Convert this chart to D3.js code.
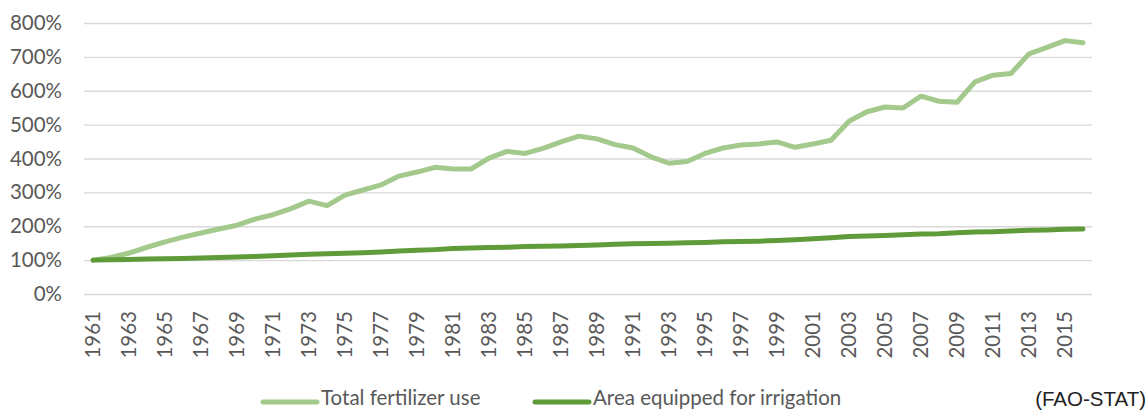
<!DOCTYPE html>
<html>
<head>
<meta charset="utf-8">
<script src="https://cdn.jsdelivr.net/npm/d3@7"></script>
<style>
  body { margin: 0; background: #fff; }
  text { font-family: Lato, "Open Sans", sans-serif; }
</style>
</head>
<body>
<div id="chart"></div>
<script>
// data (index, 1961 = 100%)
const years = d3.range(1961, 2017);

const fertilizer = [
  100, 108, 121, 138, 154, 168, 180, 192, 203, 221,
  234, 252, 274, 261, 292, 307, 322, 348, 360, 374,
  369, 369, 401, 421, 415, 430, 449, 466, 458, 441,
  431, 405, 386, 391, 415, 431, 440, 443, 449, 433,
  443, 454, 510, 538, 552, 549, 584, 569, 566, 626,
  646, 651, 709, 728, 748, 742
];

const irrigation = [
  100, 101, 102, 103, 104, 105, 106, 108, 109, 111,
  113, 115, 117, 119, 120, 122, 124, 127, 129, 131,
  134, 136, 137, 138, 140, 141, 142, 143, 145, 147,
  148, 149, 150, 151, 152, 154, 155, 156, 158, 160,
  163, 166, 170, 171, 173, 175, 177, 178, 181, 183,
  184, 186, 188, 189, 191, 192
];

const yTicks = [0, 100, 200, 300, 400, 500, 600, 700, 800];
const xTicks = years.filter(y => (y - 1961) % 2 === 0);

const seriesNames = ["Total fertilizer use", "Area equipped for irrigation"];
const colors = ["#a3c98d", "#5f9b39"];

const WIDTH = 1147;
const HEIGHT = 410;
const margin = { top: 23, right: 55, bottom: 116, left: 84 };
const width = WIDTH - margin.left - margin.right;
const height = HEIGHT - margin.top - margin.bottom;

const svg = d3
  .select("#chart")
  .append("svg")
  .attr("width", WIDTH)
  .attr("height", HEIGHT);

const g = svg
  .append("g")
  .attr("transform", `translate(${margin.left}, ${margin.top})`);

const x = d3.scaleBand().domain(years).range([0, width]);
const y = d3.scaleLinear().domain([0, 800]).range([height, 0]);

// gridlines + y labels
const yAxis = g
  .append("g")
  .call(d3.axisLeft(y).tickValues(yTicks).tickSize(-width).tickFormat(d => d + "%"));
yAxis.select(".domain").remove();
yAxis.selectAll("line").attr("stroke", "#d9d9d9").attr("stroke-width", 1.3);
yAxis
  .selectAll("text")
  .attr("x", -22)
  .attr("fill", "#595959")
  .style("font-size", "20.5px");

// x labels (every other year, rotated)
const xAxis = g
  .append("g")
  .attr("transform", `translate(0, ${height})`)
  .call(d3.axisBottom(x).tickValues(xTicks).tickSize(0));
xAxis.select(".domain").remove();
xAxis
  .selectAll("text")
  .attr("transform", "rotate(-90)")
  .attr("x", -17)
  .attr("y", 0)
  .attr("dy", "0.36em")
  .style("text-anchor", "end")
  .attr("fill", "#595959")
  .style("font-size", "20.5px");

const line = d3
  .line()
  .x((d, i) => x(years[i]) + x.bandwidth() / 2)
  .y(d => y(d));

[fertilizer, irrigation].forEach((s, i) => {
  g.append("path")
    .datum(s)
    .attr("fill", "none")
    .attr("stroke", colors[i])
    .attr("stroke-width", 5)
    .attr("stroke-linejoin", "round")
    .attr("stroke-linecap", "round")
    .attr("d", line);
});

// legend
const legendX = [263, 535];
const legend = svg
  .selectAll(".legend")
  .data(seriesNames)
  .join("g")
  .attr("class", "legend")
  .attr("transform", (d, i) => `translate(${legendX[i]}, 402)`);

legend
  .append("line")
  .attr("x1", 0)
  .attr("x2", 54)
  .attr("stroke", (d, i) => colors[i])
  .attr("stroke-width", 5)
  .attr("stroke-linecap", "round");

legend
  .append("text")
  .attr("x", 58)
  .attr("y", 3)
  .attr("fill", "#595959")
  .style("font-size", "20.5px")
  .text(d => d);

// source
svg
  .append("text")
  .attr("x", 1146)
  .attr("y", 406)
  .attr("text-anchor", "end")
  .attr("fill", "#222")
  .style("font-family", "'Liberation Sans', Arial, sans-serif")
  .style("font-size", "20.5px")
  .text("(FAO-STAT)");
</script>
</body>
</html>
